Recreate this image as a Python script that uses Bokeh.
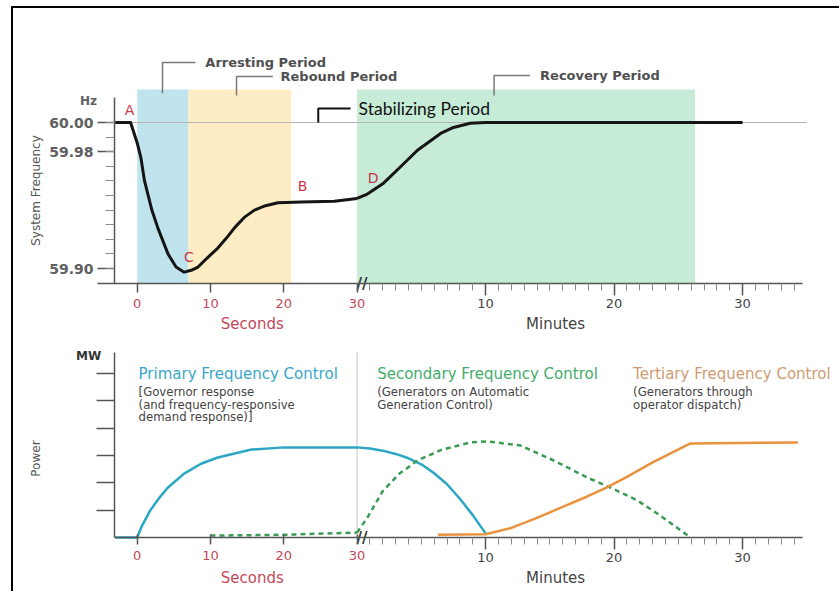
import math
from bokeh.plotting import figure
from bokeh.models import Range1d, LinearAxis, FixedTicker, PrintfTickFormatter, Spacer
from bokeh.layouts import column, row
from bokeh.core.properties import value
from bokeh.embed import file_html
from bokeh.resources import INLINE

# ---------------- data ----------------
# System frequency (Hz) vs time: seconds part, then minutes part
FREQ_SEC_T = [-3, -0.9, 0, 0.5, 1, 2, 2.8, 4.2, 5.3, 6.4, 7.5, 8.3, 9.5, 11, 12.2, 13.3,
              14.6, 16, 17.5, 19.2, 22.4, 26.9, 30]
FREQ_SEC_HZ = [60.000, 60.000, 59.986, 59.976, 59.960, 59.940, 59.928, 59.910, 59.901,
               59.8975, 59.899, 59.901, 59.907, 59.914, 59.921, 59.928, 59.935, 59.940,
               59.943, 59.945, 59.9455, 59.946, 59.948]
FREQ_MIN_T = [0, 0.8, 2, 3.3, 4.7, 6.5, 7.5, 8.8, 10, 30]
FREQ_MIN_HZ = [59.948, 59.951, 59.958, 59.969, 59.981, 59.9925, 59.9966, 59.9995, 60.000, 60.000]
NOMINAL_HZ = 60.00
NOMINAL_END_MIN = 35

# shaded periods
ARRESTING_SEC = [0, 7]
REBOUND_SEC = [7, 21]
RECOVERY_MIN = [0, 26.3]
PERIOD_NAMES = ["Arresting Period", "Rebound Period", "Stabilizing Period", "Recovery Period"]

# point letters
PT_SEC_LABELS = ["A", "C", "B"]
PT_SEC_T = [-1.05, 7.04, 22.56]
PT_SEC_HZ = [60.0089, 59.9077, 59.9568]
PT_MIN_LABELS = ["D"]
PT_MIN_T = [1.25]
PT_MIN_HZ = [59.9623]

# power (MW) responses
PRIMARY_SEC_T = [-3, 0, 0.6, 1.8, 3, 4.2, 6.4, 8.7, 11, 15.6, 20, 26.9, 30]
PRIMARY_SEC_MW = [0, 0, 0.4, 1.0, 1.45, 1.83, 2.34, 2.7, 2.93, 3.22, 3.3, 3.3, 3.3]
PRIMARY_MIN_T = [0, 1, 2, 3, 4, 5, 6, 7, 8, 9, 10]
PRIMARY_MIN_MW = [3.3, 3.26, 3.18, 3.06, 2.9, 2.68, 2.35, 1.95, 1.42, 0.82, 0.15]
SECONDARY_SEC_T = [10, 20, 30]
SECONDARY_SEC_MW = [0.07, 0.1, 0.18]
SECONDARY_MIN_T = [0, 0.8, 2, 3.3, 4.7, 6.5, 8.8, 10.1, 12.7, 15.3, 17.9, 19.7, 21.8, 23.6, 25.8]
SECONDARY_MIN_MW = [0.18, 0.73, 1.7, 2.34, 2.82, 3.2, 3.48, 3.52, 3.37, 2.82, 2.2, 1.83, 1.36, 0.8, 0.05]
TERTIARY_MIN_T = [6.3, 10, 12, 14, 16, 18, 19.4, 21, 23, 25.9, 34.3]
TERTIARY_MIN_MW = [0.1, 0.12, 0.35, 0.72, 1.12, 1.52, 1.83, 2.22, 2.75, 3.44, 3.48]

CONTROL_NAMES = ["Primary Frequency Control", "Secondary Frequency Control",
                 "Tertiary Frequency Control"]
CONTROL_NOTES = [["[Governor response", "(and frequency-responsive", "demand response)]"],
                 ["(Generators on Automatic", "Generation Control)"],
                 ["(Generators through", "operator dispatch)"]]

# ticks
SEC_TICKS = [0, 10, 20, 30]
MIN_TICKS = [10, 20, 30]
MIN_MINOR = [1, 2, 3, 4, 5, 6, 7, 8, 9, 11, 12, 13, 14, 15, 16, 17, 18, 19, 21, 22, 23,
             24, 25, 26, 27, 28, 29, 31, 32, 33, 34]
HZ_TICKS = [59.90, 59.98, 60.00]
HZ_MINOR = [59.90, 59.91, 59.92, 59.93, 59.94, 59.95, 59.96, 59.97, 59.98, 59.99, 60.00]
MW_TICKS = [1, 2, 3, 4, 5, 6]

# ---------------- scales / styles ----------------
FONT_NAME = "DejaVu Sans"
FONT = value(FONT_NAME)
RED = "#c8374a"
RED_TICK = "#c24a58"
GRAY = "#555555"

W = 826                 # canvas width
SEC0_PX = 123.7         # canvas px of t = 0 s
PX_S, PX_M = 7.33, 12.85
S_LO = -SEC0_PX / PX_S
S_HI = (W - SEC0_PX) / PX_S
MIN0_PX = SEC0_PX + 30 * PX_S
M_LO = -MIN0_PX / PX_M
M_HI = (W - MIN0_PX) / PX_M
Y_AXIS_S = -3.1         # y axes sit at t = -3.1 s

H1 = 327
PX_HZ = 1460.0
Y1_HI = 60.0 + 114 / PX_HZ
Y1_LO = 60.0 - (H1 - 114) / PX_HZ
Y1_AXIS = 59.8897

H2 = 256
PX_MW = 27.31
Y2_HI = (537 - 335) / PX_MW
Y2_LO = -(H2 - (537 - 335)) / PX_MW


def base_fig(height, y_lo, y_hi):
    p = figure(width=W, height=height, x_range=Range1d(S_LO, S_HI),
               y_range=Range1d(y_lo, y_hi), output_backend="svg", toolbar_location=None,
               min_border_left=0, min_border_right=0, min_border_top=0,
               min_border_bottom=0, title=None)
    p.extra_x_ranges = {"min": Range1d(M_LO, M_HI)}
    p.xgrid.visible = False
    p.ygrid.visible = False
    p.outline_line_color = None
    p.background_fill_color = "white"
    p.border_fill_color = "white"
    return p


def time_axes(p, y_axis_loc, sec_bounds, sec_tick_out, sec_tick_in):
    ax = p.xaxis[0]
    ax.fixed_location = y_axis_loc
    ax.ticker = FixedTicker(ticks=SEC_TICKS)
    ax.bounds = sec_bounds
    ax.axis_line_color = GRAY
    ax.axis_line_width = 1.5
    ax.major_tick_line_color = GRAY
    ax.major_tick_line_width = 1.5
    ax.major_tick_out = sec_tick_out
    ax.major_tick_in = sec_tick_in
    ax.minor_tick_line_color = None
    ax.major_label_text_color = RED_TICK
    ax.major_label_text_font = FONT_NAME
    ax.major_label_text_font_size = "13px"
    ax.major_label_standoff = 6
    mx = LinearAxis(x_range_name="min", fixed_location=y_axis_loc,
                    ticker=FixedTicker(ticks=MIN_TICKS, minor_ticks=MIN_MINOR),
                    bounds=(0, 34.7))
    mx.axis_line_color = GRAY
    mx.axis_line_width = 1.5
    mx.major_tick_line_color = GRAY
    mx.major_tick_line_width = 1.5
    mx.major_tick_out = 12
    mx.major_tick_in = 0
    mx.minor_tick_line_color = "#8a8a8a"
    mx.minor_tick_out = 7
    mx.minor_tick_in = 0
    mx.major_label_text_color = "#444444"
    mx.major_label_text_font = FONT_NAME
    mx.major_label_text_font_size = "13px"
    mx.major_label_standoff = 3
    p.add_layout(mx, "below")


def txt(p, x, y, text, color, size, style="normal", align="center", rng="default",
        font=FONT, angle=0.0, x_offset=0):
    p.text([x], [y], text=[text], text_color=color, text_font=font, text_font_size=size,
           text_font_style=style, text_align=align, text_baseline="middle",
           x_range_name=rng, angle=angle, x_offset=x_offset)


# ---------------- top: system frequency ----------------
p1 = base_fig(H1, Y1_LO, Y1_HI)
BAND_TOP = 60.0226
p1.quad(left=[ARRESTING_SEC[0]], right=[ARRESTING_SEC[1]], bottom=[Y1_AXIS], top=[BAND_TOP],
        fill_color="#c0e4ee", line_color=None)
p1.quad(left=[REBOUND_SEC[0]], right=[REBOUND_SEC[1]], bottom=[Y1_AXIS], top=[BAND_TOP],
        fill_color="#fdecc4", line_color=None)
p1.quad(left=[RECOVERY_MIN[0]], right=[RECOVERY_MIN[1]], bottom=[Y1_AXIS], top=[BAND_TOP],
        fill_color="#c6ebd6", line_color=None, x_range_name="min")

p1.line([Y_AXIS_S, 30], [NOMINAL_HZ, NOMINAL_HZ], line_color="#b5b5b5", line_width=1)
p1.line([0, NOMINAL_END_MIN], [NOMINAL_HZ, NOMINAL_HZ], line_color="#b5b5b5",
        line_width=1, x_range_name="min")

p1.line(FREQ_SEC_T, FREQ_SEC_HZ, line_color="#151515", line_width=3, line_join="round")
p1.line(FREQ_MIN_T, FREQ_MIN_HZ, line_color="#151515", line_width=3, line_join="round",
        x_range_name="min")

# period brackets + labels
BR = "#7a7a7a"
p1.line([3.45, 3.45, 7.95], [60.0200, 60.0411, 60.0411], line_color=BR, line_width=1.5)
txt(p1, 9.3, 60.0411, PERIOD_NAMES[0], "#505050", "13px", "bold", "left")
p1.line([13.55, 13.55, 18.5], [60.0185, 60.0315, 60.0315], line_color=BR, line_width=1.5)
txt(p1, 19.55, 60.0315, PERIOD_NAMES[1], "#505050", "13px", "bold", "left")
p1.line([24.7, 24.7, 29.1], [60.0, 60.0096, 60.0096], line_color="#111111", line_width=2)
txt(p1, 30.2, 60.0096, PERIOD_NAMES[2], "#111111", "17.5px", "normal", "left",
    font=value("Lato"))
p1.line([10.66, 10.66, 13.46], [60.0185, 60.0322, 60.0322], line_color=BR, line_width=1.5,
        x_range_name="min")
txt(p1, 14.24, 60.0322, PERIOD_NAMES[3], "#505050", "13px", "bold", "left", rng="min")

# point letters
p1.text(PT_SEC_T, PT_SEC_HZ, text=PT_SEC_LABELS, text_font=FONT, text_font_size="14px",
        text_color=RED, text_align="center", text_baseline="middle")
p1.text(PT_MIN_T, PT_MIN_HZ, text=PT_MIN_LABELS, text_font=FONT, text_font_size="14px",
        text_color=RED, text_align="center", text_baseline="middle", x_range_name="min")

# axes
ya = p1.yaxis[0]
ya.fixed_location = Y_AXIS_S
ya.ticker = FixedTicker(ticks=HZ_TICKS, minor_ticks=HZ_MINOR)
ya.formatter = PrintfTickFormatter(format="%.2f")
ya.bounds = (Y1_AXIS, 60.0171)
ya.axis_line_color = GRAY
ya.axis_line_width = 1.5
ya.major_tick_line_color = GRAY
ya.major_tick_line_width = 1.5
ya.major_tick_out = 17
ya.major_tick_in = 0
ya.minor_tick_line_color = "#8a8a8a"
ya.minor_tick_out = 9
ya.minor_tick_in = 0
ya.major_label_text_font = FONT_NAME
ya.major_label_text_font_size = "14px"
ya.major_label_text_font_style = "bold"
ya.major_label_text_color = "#606060"
ya.major_label_standoff = 4
time_axes(p1, Y1_AXIS, (-5.4, 30), 9, 0)

txt(p1, -13.87, 59.9534, "System Frequency", GRAY, "12px", angle=math.pi / 2)
txt(p1, -6.64, 60.0144, "Hz", "#606060", "12px", "bold")
txt(p1, 15.7, 59.8623, "Seconds", RED_TICK, "15px")
txt(p1, 15.45, 59.8623, "Minutes", "#444444", "15px", rng="min")
txt(p1, 30, Y1_AXIS, "//", "#333333", "15px", "bold", x_offset=5)

# ---------------- bottom: power ----------------
p2 = base_fig(H2, Y2_LO, Y2_HI)
p2.segment(x0=[30], y0=[0], x1=[30], y1=[6.78], line_color="#c4c4c4", line_width=1)

p2.line(PRIMARY_SEC_T, PRIMARY_SEC_MW, line_color="#2ba6c4", line_width=2.5)
p2.line(PRIMARY_MIN_T, PRIMARY_MIN_MW, line_color="#2ba6c4", line_width=2.5,
        x_range_name="min")
p2.line(SECONDARY_SEC_T, SECONDARY_SEC_MW, line_color="#3a9b55", line_width=2.5,
        line_dash="5 4")
p2.line(SECONDARY_MIN_T, SECONDARY_MIN_MW, line_color="#3a9b55", line_width=2.5,
        line_dash="5 4", x_range_name="min")
p2.line(TERTIARY_MIN_T, TERTIARY_MIN_MW, line_color="#e8923c", line_width=2.5,
        x_range_name="min")

TITLE_Y = 6.0
NOTE_Y = [5.33, 4.87, 4.41]
title_specs = [(0.19, "default", "#3aa7c9"), (1.56, "min", "#43ad6a"), (21.48, "min", "#cf9c74")]
for (x, rng, col), name, notes in zip(title_specs, CONTROL_NAMES, CONTROL_NOTES):
    p2.text([x], [TITLE_Y], text=[name], text_font=FONT, text_font_size="15px",
            text_color=col, text_baseline="middle", x_range_name=rng)
    p2.text([x] * len(notes), NOTE_Y[:len(notes)], text=notes, text_font=FONT,
            text_font_size="11.7px", text_color="#444444", text_baseline="middle",
            x_range_name=rng)

yb = p2.yaxis[0]
yb.fixed_location = Y_AXIS_S
yb.ticker = FixedTicker(ticks=MW_TICKS)
yb.major_label_overrides = {t: "" for t in MW_TICKS}
yb.bounds = (0, 6.78)
yb.axis_line_color = GRAY
yb.axis_line_width = 1.5
yb.major_tick_line_color = GRAY
yb.major_tick_line_width = 1.5
yb.major_tick_out = 18
yb.major_tick_in = 0
yb.minor_tick_line_color = None
time_axes(p2, 0, (Y_AXIS_S, 30), 7, 3)

txt(p2, -13.87, 2.89, "Power", GRAY, "12px", angle=math.pi / 2)
txt(p2, -6.64, 6.66, "MW", "#333333", "12px", "bold")
txt(p2, 15.7, -1.5, "Seconds", RED_TICK, "15px")
txt(p2, 15.45, -1.5, "Minutes", "#444444", "15px", rng="min")
txt(p2, 30, 0, "//", "#333333", "15px", "bold", x_offset=5)

inner = column(p1, p2, spacing=0,
               styles={"border-top": "2px solid #000", "border-left": "2px solid #000"})
layout = row(Spacer(width=11), column(Spacer(height=6), inner, spacing=0), spacing=0)

with open("out.html", "w") as f:
    f.write(file_html(layout, INLINE))
